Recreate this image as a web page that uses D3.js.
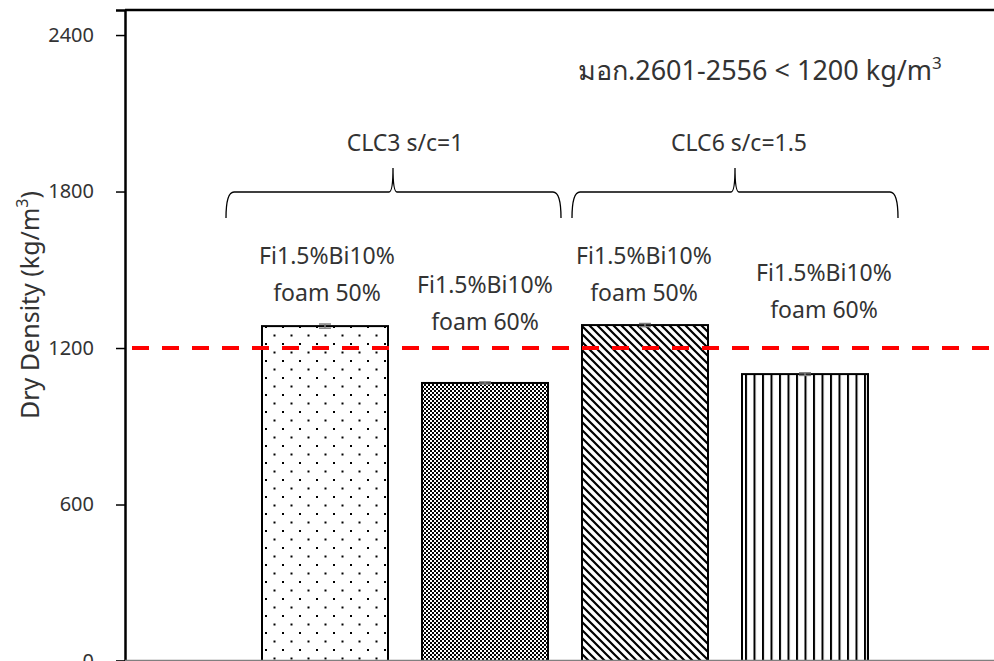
<!DOCTYPE html>
<html><head><meta charset="utf-8">
<script src="https://cdn.jsdelivr.net/npm/d3@7"></script>
<style>body{margin:0;background:#fff}svg{display:block}text{font-family:"Noto Sans","Open Sans",sans-serif;fill:#333}</style>
</head><body><svg id="c" width="994" height="661"></svg>
<script>
const categories = ["CLC3 foam 50%", "CLC3 foam 60%", "CLC6 foam 50%", "CLC6 foam 60%"];
const values = [1284, 1066, 1288, 1100];
const errors = [8, 4, 6, 5];
const barLabels1 = ["Fi1.5%Bi10%", "Fi1.5%Bi10%", "Fi1.5%Bi10%", "Fi1.5%Bi10%"];
const barLabels2 = ["foam 50%", "foam 60%", "foam 50%", "foam 60%"];
const patterns = ["dots", "checker", "diag", "vert"];
const yTicks = [0, 600, 1200, 1800, 2400];
const standardValue = 1200;
const groups = ["CLC3 s/c=1", "CLC6 s/c=1.5"];

const svg = d3.select("#c");
const y = d3.scaleLinear().domain([0, 2496]).range([661, 10]);
const x = d3.scaleBand().domain(categories).range([245, 885]).paddingInner(0.2125).paddingOuter(0.10625);

const defs = svg.append("defs");
// dots
let p = defs.append("pattern").attr("id","dots").attr("patternUnits","userSpaceOnUse").attr("width",17).attr("height",17).attr("x",x(categories[0])+3).attr("y",3);
p.append("rect").attr("width",17).attr("height",17).attr("fill","#fff");
p.append("rect").attr("x",0).attr("y",0).attr("width",2).attr("height",2).attr("fill","#000");
p.append("rect").attr("x",8.5).attr("y",8.5).attr("width",2).attr("height",2).attr("fill","#000");
// checker
p = defs.append("pattern").attr("id","checker").attr("patternUnits","userSpaceOnUse").attr("width",4).attr("height",4);
p.append("rect").attr("width",4).attr("height",4).attr("fill","#fff");
p.append("rect").attr("width",2).attr("height",2).attr("fill","#000");
p.append("rect").attr("x",2).attr("y",2).attr("width",2).attr("height",2).attr("fill","#000");
// diagonal
p = defs.append("pattern").attr("id","diag").attr("patternUnits","userSpaceOnUse").attr("width",8).attr("height",8);
p.append("rect").attr("width",8).attr("height",8).attr("fill","#fff");
p.append("path").attr("d","M-2,-2 L10,10 M-2,6 L2,10 M6,-2 L10,2").attr("stroke","#000").attr("stroke-width",2.2);
// vertical
p = defs.append("pattern").attr("id","vert").attr("patternUnits","userSpaceOnUse").attr("width",8.5).attr("height",10).attr("x",x(categories[3])+3);
p.append("rect").attr("width",8.5).attr("height",10).attr("fill","#fff");
p.append("rect").attr("x",0).attr("width",2).attr("height",10).attr("fill","#000");

// frame top line
svg.append("line").attr("x1",125).attr("x2",994).attr("y1",10).attr("y2",10).attr("stroke","#000").attr("stroke-width",2.5);

// bars
svg.selectAll("rect.bar").data(values).join("rect").attr("class","bar")
  .attr("x",(d,i)=>x(categories[i])).attr("width",x.bandwidth())
  .attr("y",d=>y(d)).attr("height",d=>y(0)-y(d))
  .attr("fill",(d,i)=>`url(#${patterns[i]})`).attr("stroke","#000").attr("stroke-width",2);

// error bars
values.forEach((v,i)=>{
  const cx = x(categories[i]) + x.bandwidth()/2;
  const g = svg.append("g").attr("stroke","#808080").attr("stroke-width",1.5);
  g.append("line").attr("x1",cx).attr("x2",cx).attr("y1",y(v-errors[i])).attr("y2",y(v+errors[i]));
  g.append("line").attr("x1",cx-6).attr("x2",cx+6).attr("y1",y(v+errors[i])).attr("y2",y(v+errors[i]));
  g.append("line").attr("x1",cx-6).attr("x2",cx+6).attr("y1",y(v-errors[i])).attr("y2",y(v-errors[i]));
});

// standard line
svg.append("line").attr("x1",125).attr("x2",994).attr("y1",y(standardValue)).attr("y2",y(standardValue))
  .attr("stroke","#ff0000").attr("stroke-width",4).attr("stroke-dasharray","17,13").attr("stroke-dashoffset",-7);

// axes
const yAxis = d3.axisLeft(y).tickValues(yTicks).tickFormat(d3.format("d")).tickSize(9).tickPadding(22);
const ga = svg.append("g").attr("transform","translate(125,0)").call(yAxis);
ga.select(".domain").attr("stroke","#000").attr("stroke-width",2.5);
ga.selectAll(".tick line").attr("stroke","#000").attr("stroke-width",1.5);
ga.selectAll(".tick text").attr("font-size",20).style("font-family","'Noto Sans',sans-serif").attr("fill","#333");
svg.append("line").attr("x1",125).attr("x2",994).attr("y1",y(0)-0.5).attr("y2",y(0)-0.5).attr("stroke","#808080").attr("stroke-width",1.5);

// y title
svg.append("text").attr("transform","translate(39,305) rotate(-90)").attr("text-anchor","middle").attr("font-size",25)
  .html('Dry Density (kg/m<tspan baseline-shift="super" font-size="16">3</tspan>)');

// bar labels
const labelPos = [[327,256],[485,285],[644,256],[824,273]];
barLabels1.forEach((t,i)=>{
  svg.append("text").attr("x",labelPos[i][0]).attr("y",labelPos[i][1]+8).attr("text-anchor","middle").attr("font-size",23).text(t);
  svg.append("text").attr("x",labelPos[i][0]).attr("y",labelPos[i][1]+45).attr("text-anchor","middle").attr("font-size",23).text(barLabels2[i]);
});

// group labels and braces
const groupInfo = [[226,561,393,405],[572,898,735,739]];
groups.forEach((t,i)=>{
  const [a,b,m,tx] = groupInfo[i];
  svg.append("text").attr("x",tx).attr("y",151).attr("text-anchor","middle").attr("font-size",23).text(t);
  const top=168, mid=192, bot=218;
  const path = `M${a},${bot} Q${a},${mid} ${a+8},${mid} L${m-4},${mid} Q${m},${mid} ${m},${top} Q${m},${mid} ${m+4},${mid} L${b-8},${mid} Q${b},${mid} ${b},${bot}`;
  svg.append("path").attr("d",path).attr("fill","none").attr("stroke","#000").attr("stroke-width",1.3);
});

// standard text
svg.append("text").attr("x",578).attr("y",80).attr("font-size",27)
  .html('มอก.2601-2556 &lt; 1200 kg/m<tspan baseline-shift="super" font-size="17">3</tspan>');
</script></body></html>
